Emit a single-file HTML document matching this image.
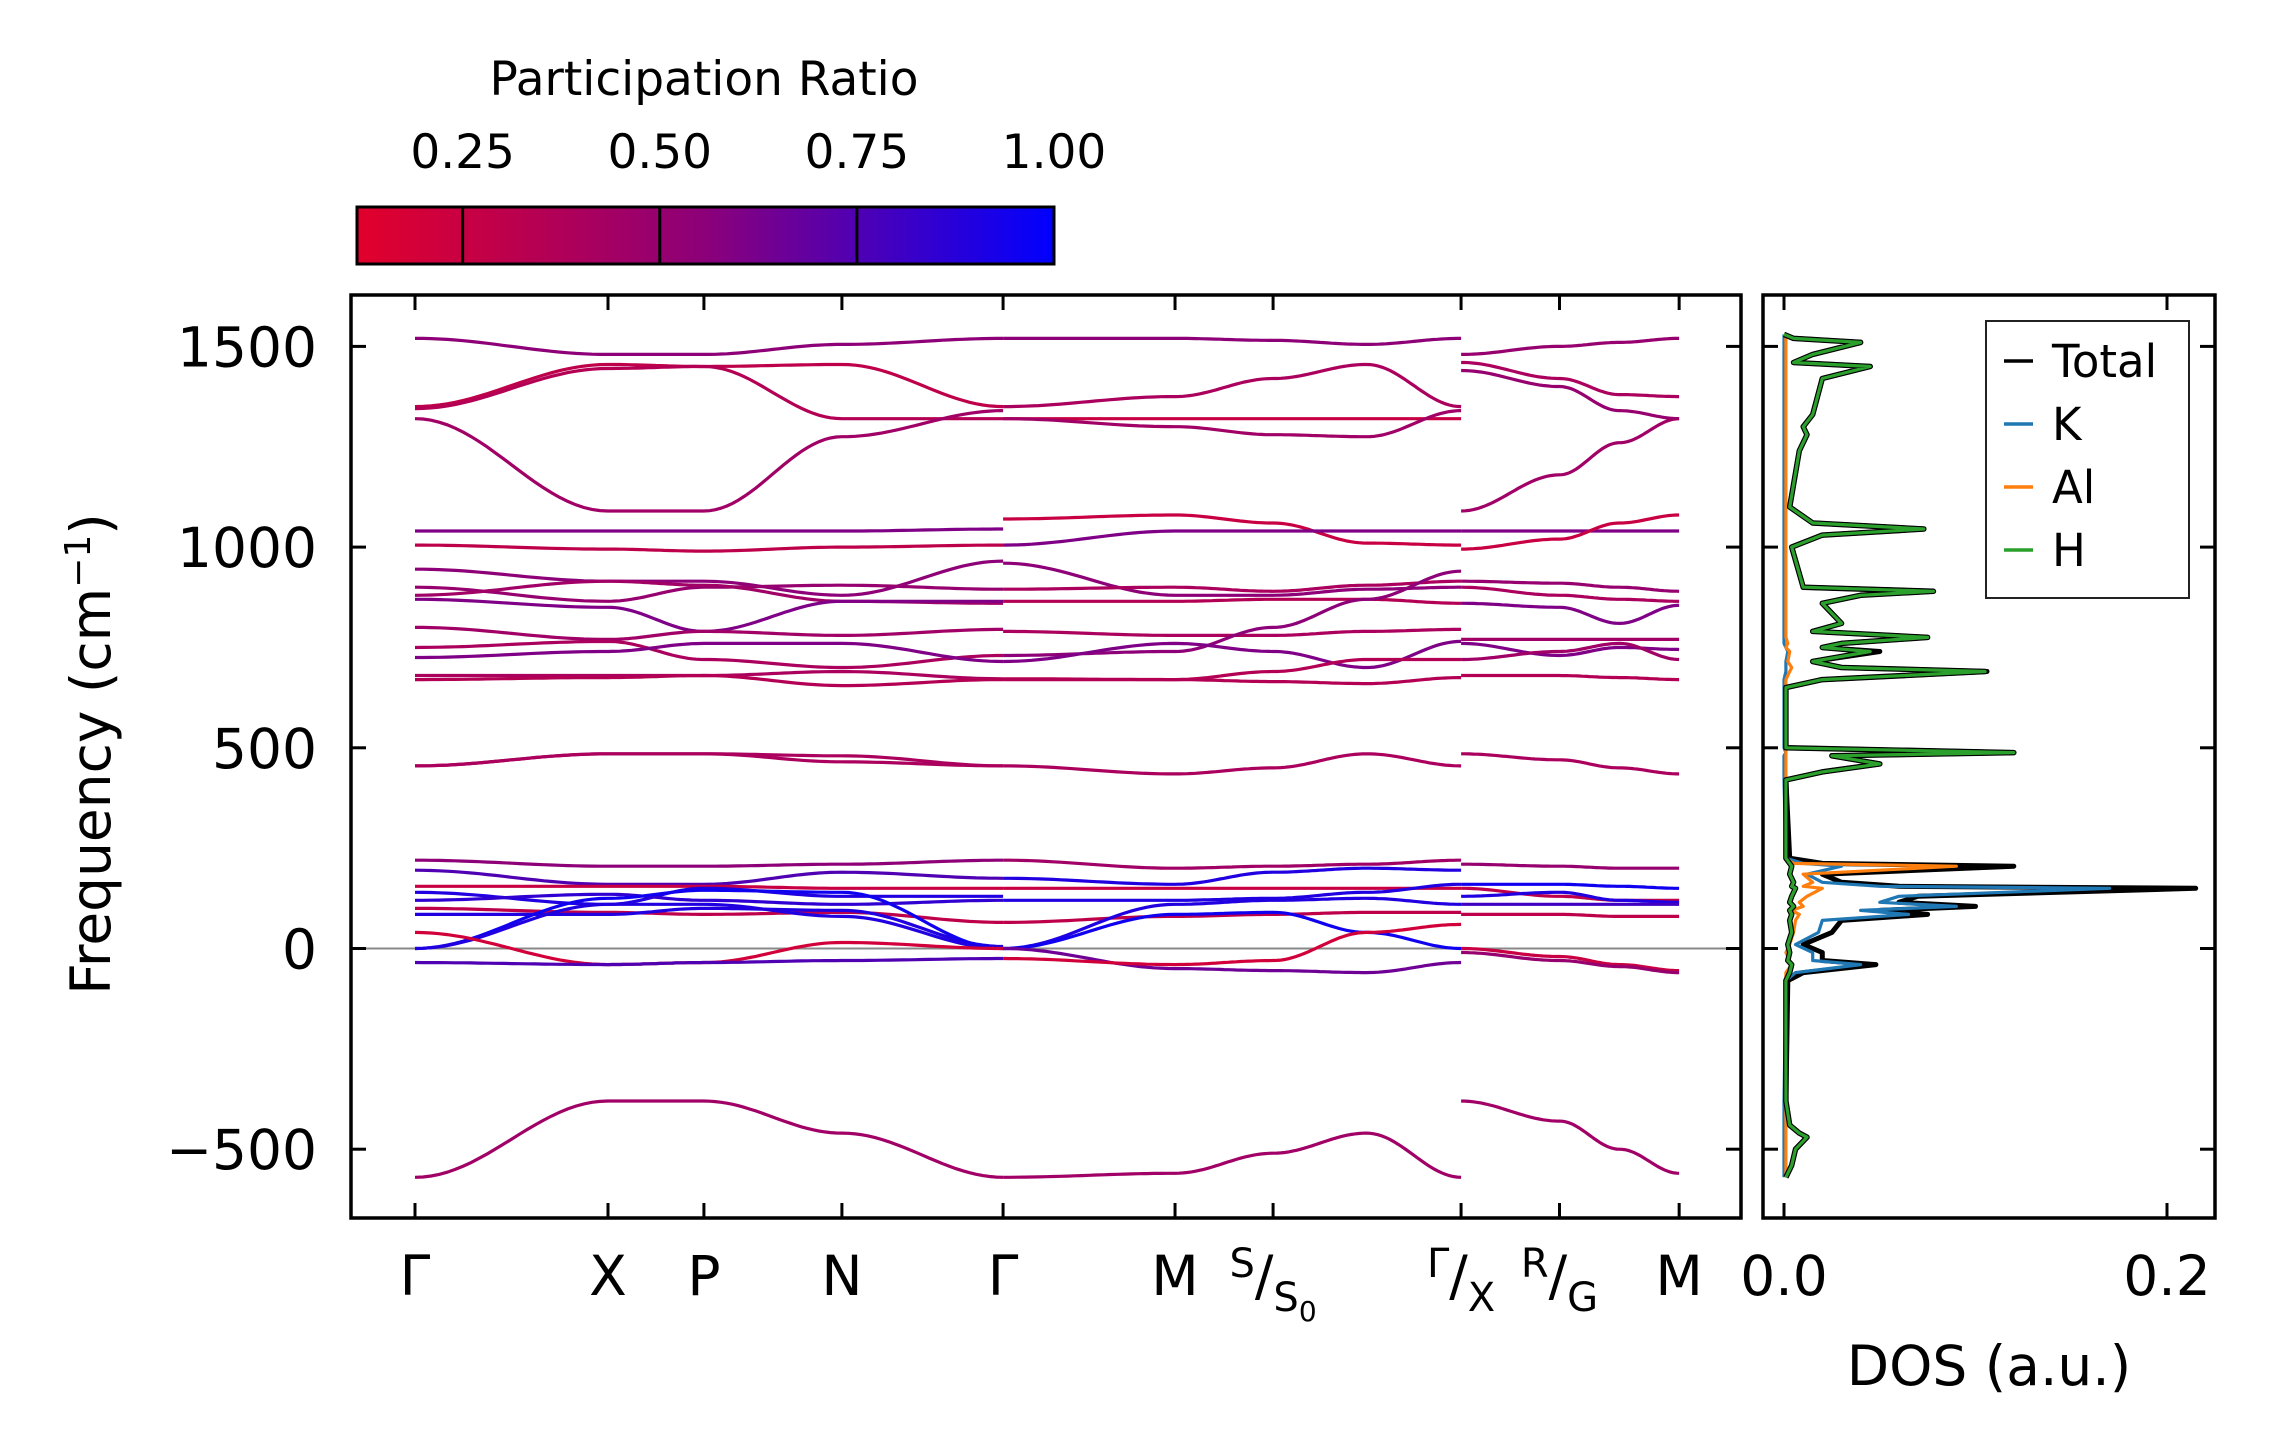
<!DOCTYPE html>
<html><head><meta charset="utf-8">
<style>
html,body{margin:0;padding:0;background:#fff;}
svg{display:block;font-family:"DejaVu Sans","Liberation Sans",sans-serif;}
</style></head>
<body>
<svg id="fig" width="2271" height="1455" viewBox="0 0 2271 1455" xmlns="http://www.w3.org/2000/svg">
<defs>
<linearGradient id="cbg" x1="0" x2="1" y1="0" y2="0">
<stop offset="0" stop-color="#e2002b"/><stop offset="0.5" stop-color="#8c0079"/><stop offset="1" stop-color="#0000ff"/>
</linearGradient>
<clipPath id="clipMain"><rect x="351" y="295" width="1390" height="924"/></clipPath>
<clipPath id="clipDos"><rect x="1763" y="295" width="452" height="924"/></clipPath>
</defs>
<g id="colorbar">
<text x="704" y="95" font-size="47" text-anchor="middle">Participation Ratio</text>
<rect x="357" y="207" width="697" height="57" fill="url(#cbg)" stroke="#000" stroke-width="3"/>
</g>
<g id="main"></g>
<g id="dos"></g>
<text transform="translate(110,754) rotate(-90)" font-size="55" text-anchor="middle">Frequency (cm<tspan dy="-20" font-size="36">−1</tspan><tspan dy="20">)</tspan></text>
<text x="1989" y="1385" font-size="55" text-anchor="middle">DOS (a.u.)</text>
</svg>
<script>
// ---------- colorbar ticks ----------
const cbTicks = [0.25, 0.50, 0.75, 1.00];
const cbMin = 0.116, cbMax = 1.0;
// ---------- band structure data ----------
const kLabels = ["Γ","X","P","N","Γ","M","S/S0","Γ/X","R/G","M"];
const kTicks = [0, 1, 1.497, 2.212, 3.047, 3.938, 4.446, 5.42, 5.93, 6.55];
const seg1K = [0, 1, 1.497, 2.212, 3.047];
const seg2K = [3.047, 3.938, 4.446, 4.93, 5.42];
const seg3K = [5.42, 5.93, 6.24, 6.55];
const yTicks = [-500, 0, 500, 1000, 1500];
const seg1Bands = [
 [1520,1480,1480,1505,1520],[1350,1455,1450,1455,1350],[1345,1445,1450,1320,1320],[1320,1090,1090,1275,1340],
 [1040,1040,1040,1040,1045],[1005,995,990,1000,1005],[945,915,915,880,965],[900,865,900,905,895],
 [880,915,905,865,860],[870,850,790,865,865],[800,770,790,780,795],[750,765,720,700,730],
 [725,740,760,760,715],[680,680,680,690,672],[670,675,680,655,670],[455,485,485,480,455],[455,485,485,465,455],
 [-570,-380,-380,-460,-570],
 [220,205,205,210,220],[195,160,160,190,175],[155,155,155,150,150],[140,110,150,130,130],
 [120,135,120,110,120],[100,90,85,90,65],[85,85,100,95,5],[0,125,145,140,0],[0,110,110,80,0],
 [40,-40,-35,15,0],[-35,-40,-35,-30,-25]
];
const seg1Ratio = [0.55,0.3,0.35,0.45,0.6,0.3,0.55,0.5,0.45,0.6,0.45,0.4,0.6,0.4,0.35,0.4,0.4,0.45,
 0.55,0.75,0.25,0.9,0.85,0.3,0.9,0.95,0.9,0.2,0.75];
const seg2Bands = [
 [1520,1520,1515,1505,1520],[1350,1375,1420,1455,1350],[1320,1320,1320,1320,1320],[1320,1300,1280,1275,1340],
 [1070,1080,1060,1010,1005],[1005,1040,1040,1040,1040],[960,880,880,895,900],[895,900,890,905,915],
 [865,865,870,870,860],[790,780,780,790,795],[730,740,800,870,940],[715,760,740,700,765],
 [672,670,690,720,720],[670,670,665,660,675],[455,435,450,485,455],[-570,-560,-510,-460,-570],
 [220,200,205,210,220],[175,160,190,200,195],[150,150,150,150,150],[120,120,125,140,160],
 [65,80,85,90,90],[0,110,120,125,110],[0,85,90,40,0],[0,-50,-55,-60,-35],[-25,-40,-30,40,60]
];
const seg2Ratio = [0.55,0.4,0.25,0.45,0.25,0.6,0.55,0.4,0.35,0.4,0.55,0.6,0.35,0.35,0.4,0.45,
 0.45,0.9,0.25,0.9,0.3,0.9,0.95,0.65,0.2];
const seg3Bands = [
 [1480,1500,1510,1520],[1460,1420,1380,1375],[1440,1400,1340,1320],[1090,1180,1260,1320],
 [1040,1040,1040,1040],[995,1020,1060,1080],[915,910,900,890],[900,880,870,865],[860,850,810,855],
 [770,770,770,770],[760,730,750,745],[720,740,760,720],[680,680,675,670],[485,470,450,435],
 [-380,-430,-500,-560],[210,205,200,200],[160,160,155,150],[150,130,120,120],[130,140,120,115],
 [110,110,110,110],[85,85,80,80],[0,-20,-40,-55],[-10,-30,-45,-60]
];
const seg3Ratio = [0.5,0.4,0.5,0.45,0.6,0.25,0.5,0.4,0.6,0.45,0.6,0.45,0.35,0.4,0.45,0.5,0.95,0.3,0.9,0.8,0.3,0.25,0.5];
// ---------- DOS data ----------
const dosFreq = [-570,-540,-500,-470,-460,-440,-380,-80,-60,-40,-30,-10,10,40,70,85,95,105,115,130,150,155,165,185,205,212,225,420,440,460,480,488,500,650,670,690,700,715,740,750,760,775,790,810,860,880,890,900,1000,1030,1045,1060,1100,1240,1280,1300,1330,1420,1450,1460,1480,1510,1520,1530];
const dosH = [0.001,0.004,0.006,0.012,0.008,0.003,0.001,0.001,0.003,0.004,0.002,0.003,0.002,0.004,0.003,0.004,0.003,0.005,0.003,0.004,0.006,0.004,0.005,0.003,0.004,0.003,0.001,0.001,0.02,0.05,0.025,0.12,0.001,0.001,0.02,0.105,0.03,0.015,0.045,0.02,0.03,0.075,0.015,0.03,0.02,0.04,0.078,0.01,0.004,0.02,0.073,0.015,0.003,0.008,0.012,0.01,0.015,0.02,0.045,0.005,0.015,0.04,0.005,0.0];
const dosTotal = [0.001,0.004,0.006,0.012,0.008,0.003,0.001,0.002,0.01,0.048,0.02,0.02,0.01,0.025,0.03,0.075,0.05,0.1,0.06,0.07,0.215,0.06,0.03,0.02,0.12,0.02,0.003,0.001,0.02,0.05,0.025,0.12,0.001,0.001,0.02,0.106,0.03,0.015,0.05,0.02,0.03,0.075,0.015,0.03,0.02,0.04,0.078,0.01,0.004,0.02,0.073,0.015,0.003,0.008,0.012,0.01,0.015,0.02,0.045,0.005,0.015,0.04,0.005,0.0];
const dosK = [0,0,0,0,0,0,0,0.001,0.006,0.04,0.015,0.015,0.006,0.018,0.02,0.065,0.04,0.09,0.05,0.06,0.17,0.05,0.02,0.012,0.03,0.01,0.001,0,0,0,0,0.001,0,0,0,0.001,0.001,0.001,0.002,0.001,0,0,0,0,0,0,0,0,0,0,0,0,0,0,0,0,0,0,0,0,0,0,0,0];
const dosAl = [0.001,0.001,0.001,0.001,0.001,0.001,0.001,0.001,0.001,0.004,0.003,0.001,0.003,0.005,0.006,0.008,0.004,0.01,0.008,0.012,0.02,0.01,0.015,0.01,0.09,0.005,0.001,0.001,0.001,0.001,0.001,0.001,0.001,0.001,0.001,0.003,0.004,0.002,0.003,0.001,0.002,0.001,0.001,0.001,0.001,0.001,0.001,0.001,0.001,0.001,0.001,0.001,0.001,0.001,0.001,0.001,0.001,0.001,0.001,0.001,0.001,0.001,0.001,0.001];
const dosTicks = [0.0, 0.2];
const legendNames = ["Total","K","Al","H"];

// ---------- scales ----------
const NS = "http://www.w3.org/2000/svg";
const AX = {l:351, r:1741, t:295, b:1218};
const DX = {l:1763, r:2215, t:295, b:1218};
const yScale = f => 948.5 - f * 0.4014;
const kScale = k => 415 + k * 193;
const dScale = d => 1784 + d * 1915;
const cbScale = v => 357 + (v - cbMin) / (cbMax - cbMin) * 697;
function mk(tag, attrs, parent){const e=document.createElementNS(NS,tag);for(const k in attrs)e.setAttribute(k,attrs[k]);parent.appendChild(e);return e;}
function ratioColor(r){
  const t=Math.max(0,Math.min(1,(r-cbMin)/(cbMax-cbMin)));
  const a=[226,0,43],m=[140,0,121],b=[0,0,255];
  let c; if(t<0.5){const u=t/0.5;c=a.map((v,i)=>Math.round(v+(m[i]-v)*u));}else{const u=(t-0.5)/0.5;c=m.map((v,i)=>Math.round(v+(b[i]-v)*u));}
  return `rgb(${c[0]},${c[1]},${c[2]})`;
}
const fig=document.getElementById('fig');
// colorbar ticks
const cbG=document.getElementById('colorbar');
cbTicks.forEach(v=>{
  const x=cbScale(v);
  const tl=mk('line',{x1:x,x2:x,y1:207,y2:264,stroke:'#000','stroke-width':3},cbG);
  
  
  const t=mk('text',{x:x,y:168,'font-size':47,'text-anchor':'middle'},cbG);
  t.textContent=v.toFixed(2);
  
  
});
// main plot
const mg=document.getElementById('main');
const zl=mk('line',{x1:AX.l,x2:AX.r,y1:yScale(0),y2:yScale(0),stroke:'#888','stroke-width':2},mg);


const bandG=mk('g',{'clip-path':'url(#clipMain)'},mg);


function drawSeg(K,bands,ratios){
  bands.forEach((b,bi)=>{
    let d='';
    for(let s=0;s<K.length-1;s++){
      const n=24;
      for(let j=(s===0?0:1);j<=n;j++){
        const u=j/n, w=(1-Math.cos(Math.PI*u))/2;
        const k=K[s]+(K[s+1]-K[s])*u, f=b[s]+(b[s+1]-b[s])*w;
        d+=(d?'L':'M')+kScale(k).toFixed(1)+' '+yScale(f).toFixed(1);
      }
    }
    const p=mk('path',{d:d,fill:'none',stroke:ratioColor(ratios[bi]),'stroke-width':3.2},bandG);
    
    
  });
}
drawSeg(seg1K,seg1Bands,seg1Ratio);
drawSeg(seg2K,seg2Bands,seg2Ratio);
drawSeg(seg3K,seg3Bands,seg3Ratio);
// axes frame & ticks
const fr=mk('rect',{x:AX.l,y:AX.t,width:AX.r-AX.l,height:AX.b-AX.t,fill:'none',stroke:'#000','stroke-width':3.5},mg);


yTicks.forEach(v=>{
  const y=yScale(v);
  mk('line',{x1:AX.l,x2:AX.l+15,y1:y,y2:y,stroke:'#000','stroke-width':3},mg);
  mk('line',{x1:AX.r,x2:AX.r-15,y1:y,y2:y,stroke:'#000','stroke-width':3},mg);
  const t=mk('text',{x:AX.l-34,y:y+20,'font-size':55,'text-anchor':'end'},mg);
  t.textContent=v<0?'−'+Math.abs(v):String(v);
  
  
});
kTicks.forEach((k,i)=>{
  const x=kScale(k);
  mk('line',{x1:x,x2:x,y1:AX.b,y2:AX.b-15,stroke:'#000','stroke-width':3},mg);
  mk('line',{x1:x,x2:x,y1:AX.t,y2:AX.t+15,stroke:'#000','stroke-width':3},mg);
  const lab=kLabels[i];
  const t=mk('text',{x:x,y:1295,'font-size':55,'text-anchor':'middle'},mg);
  
  
  if(lab.includes('/')){
    const [a,b]=lab.split('/');
    const sub=b.length>1?b[0]:b;
    t.innerHTML=`<tspan font-size="40" dy="-18">${a}</tspan><tspan dy="18">/</tspan><tspan font-size="40" dy="16">${sub}</tspan>`+(b.length>1?`<tspan font-size="28" dy="10">${b.slice(1)}</tspan>`:'');
  } else t.textContent=lab;
});
// DOS plot
const dg=document.getElementById('dos');
const dosCurves=[[dosTotal,'#000000',5,'dos-total'],[dosK,'#1f77b4',3.2,'dos-k'],[dosAl,'#ff7f0e',3.2,'dos-al'],[dosH,'#000000',5.5,'dos-h-outline'],[dosH,'#2ca02c',3.2,'dos-h']];
const dcG=mk('g',{'clip-path':'url(#clipDos)'},dg);
dosCurves.forEach(c=>{
  const pts=dosFreq.map((f,i)=>dScale(c[0][i]).toFixed(1)+','+yScale(f).toFixed(1)).join(' ');
  const p=mk('polyline',{points:pts,fill:'none',stroke:c[1],'stroke-width':c[2],'stroke-linejoin':'round'},dcG);
  
  
});
const dfr=mk('rect',{x:DX.l,y:DX.t,width:DX.r-DX.l,height:DX.b-DX.t,fill:'none',stroke:'#000','stroke-width':3.5},dg);


yTicks.forEach(v=>{
  const y=yScale(v);
  mk('line',{x1:DX.l,x2:DX.l+15,y1:y,y2:y,stroke:'#000','stroke-width':3},dg);
  mk('line',{x1:DX.r,x2:DX.r-15,y1:y,y2:y,stroke:'#000','stroke-width':3},dg);
});
dosTicks.forEach(v=>{
  const x=dScale(v);
  mk('line',{x1:x,x2:x,y1:DX.b,y2:DX.b-15,stroke:'#000','stroke-width':3},dg);
  mk('line',{x1:x,x2:x,y1:DX.t,y2:DX.t+15,stroke:'#000','stroke-width':3},dg);
  const t=mk('text',{x:x,y:1295,'font-size':55,'text-anchor':'middle'},dg);
  t.textContent=v.toFixed(1);
  
  
});
// legend
const lg=mk('g',{},dg);


mk('rect',{x:1986,y:321,width:203,height:277,fill:'#fff',stroke:'#222','stroke-width':2},lg);
const legColors=['#000000','#1f77b4','#ff7f0e','#2ca02c'];
legendNames.forEach((n,i)=>{
  const y=361+i*63;
  const e=mk('g',{},lg);
  
  
  mk('line',{x1:2004,x2:2033,y1:y,y2:y,stroke:legColors[i],'stroke-width':3.5},e);
  const t=mk('text',{x:2052,y:y+16,'font-size':45},e);
  t.textContent=n;
});
</script>
</body></html>
